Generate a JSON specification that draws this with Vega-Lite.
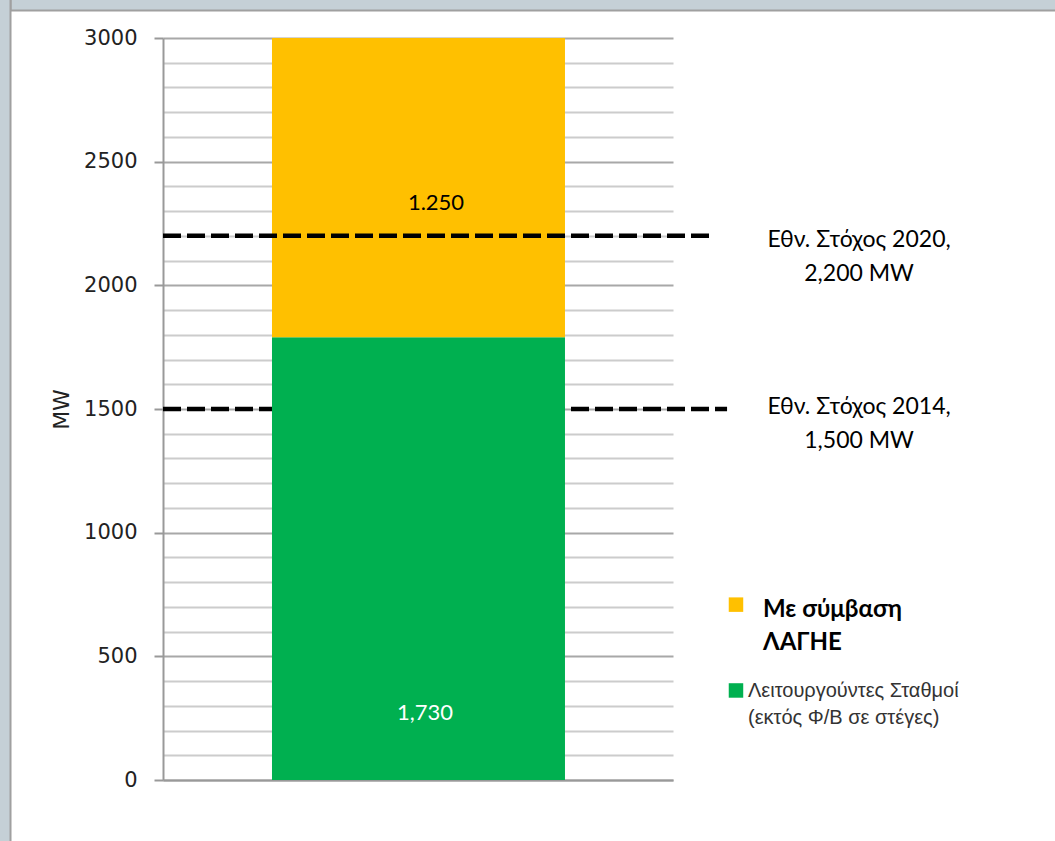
{
  "$schema": "https://vega.github.io/schema/vega-lite/v6.json",
  "width": 510,
  "height": 742,
  "autosize": {"type": "none"},
  "padding": {"left": 163, "top": 38, "right": 382, "bottom": 61},
  "background": "#ffffff",
  "config": {
    "view": {"stroke": null},
    "font": "Lato",
    "axisY": {
      "labelFont": "DejaVu Sans",
      "labelFontSize": 21,
      "labelColor": "#222222",
      "labelPadding": 17,
      "tickSize": 9,
      "tickWidth": 2,
      "gridWidth": 1.8,
      "domainColor": "#999999",
      "domainWidth": 2,
      "titleFont": "DejaVu Sans",
      "titleFontSize": 22,
      "titleFontWeight": "normal",
      "titleColor": "#222222",
      "titlePadding": 10
    }
  },
  "datasets": {
    "bars": [
      {"series": "Λειτουργούντες Σταθμοί", "value": 1790, "order": 1, "label": "1,730"},
      {"series": "Με σύμβαση ΛΑΓΗΕ", "value": 1210, "order": 2, "label": "1.250"}
    ],
    "targets": [
      {"target": "2014", "mw": 1500, "text": "Εθν. Στόχος 2014,\n1,500 MW"},
      {"target": "2020", "mw": 2200, "text": "Εθν. Στόχος 2020,\n2,200 MW"}
    ],
    "legend": [
      {"series": "Με σύμβαση ΛΑΓΗΕ", "text": "Με σύμβαση\nΛΑΓΗΕ"},
      {"series": "Λειτουργούντες Σταθμοί", "text": "Λειτουργούντες Σταθμοί\n(εκτός Φ/Β σε στέγες)"}
    ]
  },
  "layer": [
    {
      "data": {"values": [{"k": 1}]},
      "mark": {"type": "rect", "fill": "#c5d0d6", "stroke": "#a0a0a0", "strokeWidth": 2, "clip": false},
      "encoding": {
        "x": {"datum": -0.299, "type": "quantitative", "scale": {"domain": [0, 1], "nice": false, "zero": false}},
        "x2": {"datum": 2.2},
        "y": {"datum": 3111, "type": "quantitative", "scale": {"domain": [0, 3000], "nice": false}},
        "y2": {"datum": 3500}
      }
    },
    {
      "data": {"values": [{"k": 1}]},
      "mark": {"type": "rect", "fill": "#c5d0d6", "stroke": "#a0a0a0", "strokeWidth": 2, "clip": false},
      "encoding": {
        "x": {"datum": -0.6, "type": "quantitative"},
        "x2": {"datum": -0.299},
        "y": {"datum": -600, "type": "quantitative"},
        "y2": {"datum": 3500}
      }
    },
    {
      "data": {"name": "targets"},
      "transform": [{"filter": "datum.target === '2014'"}],
      "mark": {"type": "rule", "color": "#000000", "strokeWidth": 4.5, "strokeDash": [18, 6], "clip": false},
      "encoding": {
        "x": {"datum": 0, "type": "quantitative"},
        "x2": {"datum": 1.106},
        "y": {"field": "mw", "type": "quantitative"}
      }
    },
    {
      "data": {"name": "bars"},
      "transform": [{"stack": "value", "groupby": [], "sort": [{"field": "order", "order": "ascending"}], "as": ["y0", "y1"]}],
      "mark": {"type": "bar"},
      "encoding": {
        "x": {
          "datum": 0.2137, "type": "quantitative",
          "scale": {"domain": [0, 1], "nice": false, "zero": false},
          "axis": {"title": null, "labels": false, "ticks": false, "grid": false, "domain": true, "domainColor": "#999999", "domainWidth": 2}
        },
        "x2": {"datum": 0.7882},
        "y": {
          "field": "y0", "type": "quantitative",
          "scale": {"domain": [0, 3000], "nice": false},
          "axis": {
            "title": "MW",
            "tickCount": 30,
            "format": "d",
            "labelExpr": "datum.value % 500 === 0 ? datum.label : ''",
            "labelOverlap": false,
            "labelFont": "DejaVu Sans",
            "labelFontSize": 21,
            "tickColor": {"condition": {"test": "datum.value % 500 === 0", "value": "#999999"}, "value": "transparent"},
            "grid": true,
            "gridColor": {"condition": {"test": "datum.value % 500 === 0", "value": "#a8a8a8"}, "value": "#cccccc"}
          }
        },
        "y2": {"field": "y1"},
        "color": {
          "field": "series", "type": "nominal",
          "scale": {"domain": ["Λειτουργούντες Σταθμοί", "Με σύμβαση ΛΑΓΗΕ"], "range": ["#00B050", "#FFC000"]},
          "legend": null
        }
      }
    },
    {
      "data": {"name": "bars"},
      "transform": [{"filter": "datum.order === 1"}],
      "mark": {"type": "text", "font": "Lato", "fontSize": 22, "color": "#ffffff", "align": "center", "baseline": "alphabetic", "dx": 2},
      "encoding": {
        "x": {"datum": 0.5098, "type": "quantitative"},
        "y": {"datum": 243, "type": "quantitative"},
        "text": {"field": "label"}
      }
    },
    {
      "data": {"name": "bars"},
      "transform": [{"filter": "datum.order === 2"}],
      "mark": {"type": "text", "font": "Lato", "fontSize": 22, "color": "#000000", "align": "center", "baseline": "alphabetic", "dx": 13},
      "encoding": {
        "x": {"datum": 0.5098, "type": "quantitative"},
        "y": {"datum": 2305, "type": "quantitative"},
        "text": {"field": "label"}
      }
    },
    {
      "data": {"name": "targets"},
      "transform": [{"filter": "datum.target === '2020'"}],
      "mark": {"type": "rule", "color": "#000000", "strokeWidth": 4.5, "strokeDash": [18, 6], "clip": false},
      "encoding": {
        "x": {"datum": 0, "type": "quantitative"},
        "x2": {"datum": 1.0765},
        "y": {"field": "mw", "type": "quantitative"}
      }
    },
    {
      "data": {"name": "targets"},
      "transform": [{"filter": "datum.target === '2020'"}],
      "mark": {"type": "text", "font": "Lato", "fontSize": 23, "color": "#000000", "align": "center", "baseline": "alphabetic", "lineBreak": "\n", "lineHeight": 34, "dy": 11, "dx": 4},
      "encoding": {
        "x": {"datum": 1.357, "type": "quantitative"},
        "y": {"field": "mw", "type": "quantitative"},
        "text": {"field": "text"}
      }
    },
    {
      "data": {"name": "targets"},
      "transform": [{"filter": "datum.target === '2014'"}],
      "mark": {"type": "text", "font": "Lato", "fontSize": 23, "color": "#000000", "align": "center", "baseline": "alphabetic", "lineBreak": "\n", "lineHeight": 34, "dy": 5, "dx": 4},
      "encoding": {
        "x": {"datum": 1.357, "type": "quantitative"},
        "y": {"field": "mw", "type": "quantitative"},
        "text": {"field": "text"}
      }
    },
    {
      "data": {"name": "legend"},
      "transform": [{"filter": "datum.series === 'Με σύμβαση ΛΑΓΗΕ'"}],
      "mark": {"type": "point", "shape": "square", "filled": true, "opacity": 1, "size": 210, "clip": false},
      "encoding": {
        "x": {"datum": 1.1235, "type": "quantitative"},
        "y": {"datum": 709, "type": "quantitative"},
        "color": {"field": "series", "type": "nominal", "legend": null}
      }
    },
    {
      "data": {"name": "legend"},
      "transform": [{"filter": "datum.series === 'Λειτουργούντες Σταθμοί'"}],
      "mark": {"type": "point", "shape": "square", "filled": true, "opacity": 1, "size": 210, "clip": false},
      "encoding": {
        "x": {"datum": 1.1235, "type": "quantitative"},
        "y": {"datum": 362, "type": "quantitative"},
        "color": {"field": "series", "type": "nominal", "legend": null}
      }
    },
    {
      "data": {"name": "legend"},
      "transform": [{"filter": "datum.series === 'Με σύμβαση ΛΑΓΗΕ'"}],
      "mark": {"type": "text", "font": "Lato", "fontSize": 24, "fontWeight": "bold", "color": "#000000", "align": "left", "baseline": "alphabetic", "lineBreak": "\n", "lineHeight": 33},
      "encoding": {
        "x": {"datum": 1.1765, "type": "quantitative"},
        "y": {"datum": 659, "type": "quantitative"},
        "text": {"field": "text"}
      }
    },
    {
      "data": {"name": "legend"},
      "transform": [{"filter": "datum.series === 'Λειτουργούντες Σταθμοί'"}],
      "mark": {"type": "text", "font": "Liberation Sans", "fontSize": 20, "color": "#333333", "align": "left", "baseline": "alphabetic", "lineBreak": "\n", "lineHeight": 27},
      "encoding": {
        "x": {"datum": 1.147, "type": "quantitative"},
        "y": {"datum": 336, "type": "quantitative"},
        "text": {"field": "text"}
      }
    }
  ]
}
